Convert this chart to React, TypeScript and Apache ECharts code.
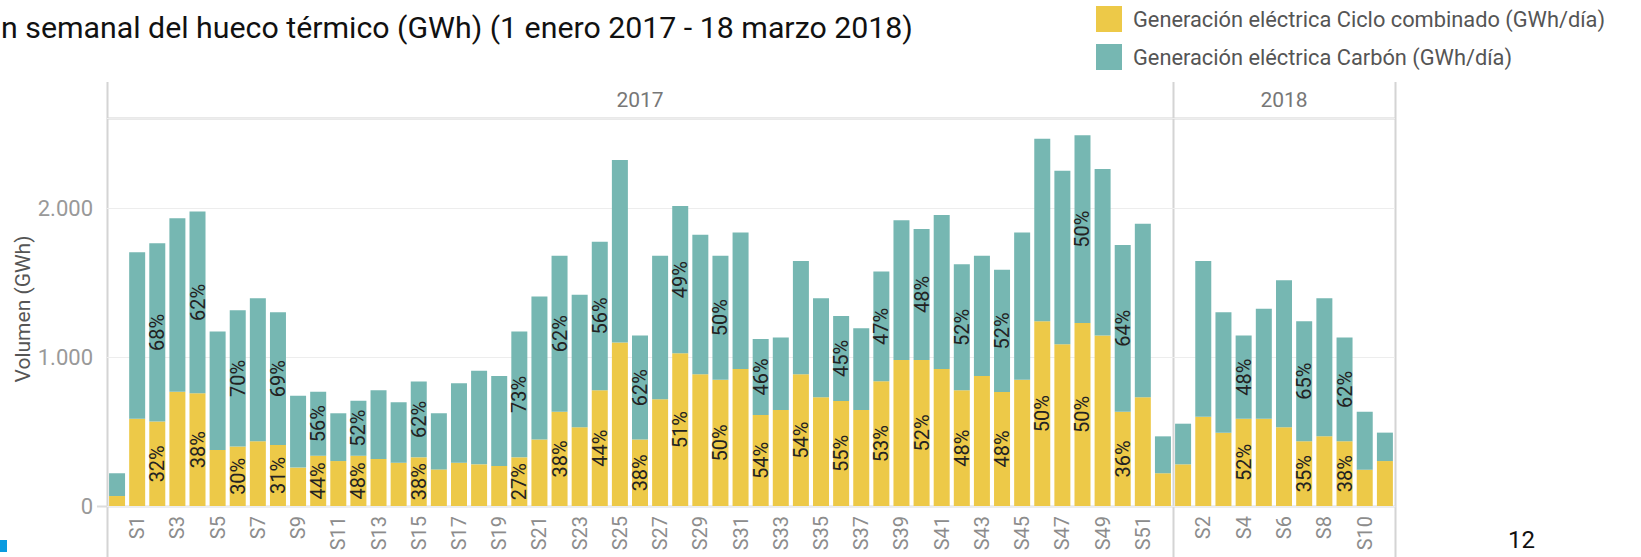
import React, { useEffect, useRef } from 'react';
import * as echarts from 'echarts';

const ccName = 'Generación eléctrica Ciclo combinado (GWh/día)';
const coalName = 'Generación eléctrica Carbón (GWh/día)';

const weeks2017 = ['S0','S1','S2','S3','S4','S5','S6','S7','S8','S9','S10','S11','S12','S13','S14','S15','S16','S17','S18','S19','S20','S21','S22','S23','S24','S25','S26','S27','S28','S29','S30','S31','S32','S33','S34','S35','S36','S37','S38','S39','S40','S41','S42','S43','S44','S45','S46','S47','S48','S49','S50','S51','S52'];
const weeks2018 = ['S1','S2','S3','S4','S5','S6','S7','S8','S9','S10','S11'];

const cc2017 = [67,587,567,768,757,376,399,435,410,258,338,302,338,316,291,327,246,291,280,269,327,446,634,529,777,1098,446,717,1026,885,849,921,612,645,885,730,706,645,838,981,981,921,777,874,766,849,1241,1086,1230,1145,634,730,220];
const coal2017 = [153,1118,1198,1165,1221,796,916,961,891,483,430,321,370,461,406,509,377,533,629,605,845,961,1048,891,999,1227,699,965,990,938,833,916,510,488,761,666,571,549,737,939,880,1035,847,808,822,988,1227,1167,1261,1120,1120,1167,248];
const cc2018 = [280,600,493,587,587,529,435,468,435,244,302];
const coal2018 = [273,1046,808,558,739,987,806,928,698,390,191];

const ccLabelWeeks2017 = ['S2','S4','S6','S8','S10','S12','S15','S20','S22','S24','S26','S28','S30','S32','S34','S36','S38','S40','S42','S44','S46','S48','S50'];
const ccLabelPct2017 = [32,38,30,31,44,48,38,27,38,44,38,51,50,54,54,55,53,52,48,48,50,50,36];
const coalLabelWeeks2017 = ['S2','S4','S6','S8','S10','S12','S15','S20','S22','S24','S26','S28','S30','S32','S36','S38','S40','S42','S44','S48','S50'];
const coalLabelPct2017 = [68,62,70,69,56,52,62,73,62,56,62,49,50,46,45,47,48,52,52,50,64];
const ccLabelWeeks2018 = ['S4','S7','S9'];
const ccLabelPct2018 = [52,35,38];
const coalLabelWeeks2018 = ['S4','S7','S9'];
const coalLabelPct2018 = [48,65,62];

const yearLabels = ['2017', '2018'];
const titleText = 'n semanal del hueco térmico (GWh) (1 enero 2017 - 18 marzo 2018)';
const yAxisTitle = 'Volumen (GWh)';
const pageNumber = '12';

const CC_COLOR = '#EDC948';
const COAL_COLOR = '#76B7B2';
const FONT = 'Roboto, "Open Sans", sans-serif';
const LINE = '#d4d4d4';

const Y_MAX = 2607;

function pctFormatter(weeks: string[], pcts: number[]) {
  return (p: any) => {
    const i = weeks.indexOf(p.name);
    return i >= 0 ? pcts[i] + '%' : '';
  };
}

function fmtThousands(v: number) {
  if (v % 1000 !== 0) return '';
  if (v === 0) return '0';
  return (v / 1000) + '.000';
}

export default function App() {
  const ref = useRef<HTMLDivElement>(null);
  useEffect(() => {
    if (!ref.current) return;
    const chart = echarts.init(ref.current, undefined, { renderer: 'svg' });
    const segLabel = (weeks: string[], pcts: number[]) => ({
      show: true,
      position: 'inside',
      rotate: 90,
      fontSize: 20,
      fontFamily: FONT,
      color: '#222',
      formatter: pctFormatter(weeks, pcts),
    });
    const xAxisCommon = {
      type: 'category',
      axisLine: { show: false },
      axisTick: { show: false },
      axisLabel: {
        interval: (index: number) => index % 2 === 1,
        rotate: 90,
        margin: 10,
        fontSize: 20,
        fontFamily: FONT,
        color: '#8c8c8c',
      },
    };
    const yAxisCommon = {
      type: 'value',
      min: 0,
      max: Y_MAX,
      interval: 1000,
      axisLine: { show: false },
      axisTick: { show: false },
      splitLine: { show: true, lineStyle: { color: '#ededed', width: 1 } },
    };
    chart.setOption({
      animation: false,
      backgroundColor: '#ffffff',
      textStyle: { fontFamily: FONT },
      legend: {
        data: [ccName, coalName],
        orient: 'vertical',
        left: 1096,
        top: 6,
        padding: 0,
        itemGap: 12,
        itemWidth: 26,
        itemHeight: 26,
        icon: 'rect',
        selectedMode: false,
        textStyle: { fontSize: 21.8, color: '#555', fontFamily: FONT, padding: [0, 0, 0, 6] },
      },
      grid: [
        { left: 107, top: 118, width: 1066, height: 388 },
        { left: 1173, top: 118, width: 222, height: 388 },
      ],
      xAxis: [
        { ...xAxisCommon, gridIndex: 0, data: weeks2017 },
        { ...xAxisCommon, gridIndex: 1, data: weeks2018 },
      ],
      yAxis: [
        {
          ...yAxisCommon,
          gridIndex: 0,
          axisLabel: { fontSize: 22, color: '#999', fontFamily: FONT, margin: 14, formatter: fmtThousands },
        },
        { ...yAxisCommon, gridIndex: 1, axisLabel: { show: false } },
      ],
      series: [
        {
          name: ccName, type: 'bar', xAxisIndex: 0, yAxisIndex: 0, stack: 'y2017',
          barWidth: 16, itemStyle: { color: CC_COLOR }, data: cc2017,
          label: segLabel(ccLabelWeeks2017, ccLabelPct2017),
        },
        {
          name: coalName, type: 'bar', xAxisIndex: 0, yAxisIndex: 0, stack: 'y2017',
          barWidth: 16, itemStyle: { color: COAL_COLOR }, data: coal2017,
          label: segLabel(coalLabelWeeks2017, coalLabelPct2017),
        },
        {
          name: ccName, type: 'bar', xAxisIndex: 1, yAxisIndex: 1, stack: 'y2018',
          barWidth: 16, itemStyle: { color: CC_COLOR }, data: cc2018,
          label: segLabel(ccLabelWeeks2018, ccLabelPct2018),
        },
        {
          name: coalName, type: 'bar', xAxisIndex: 1, yAxisIndex: 1, stack: 'y2018',
          barWidth: 16, itemStyle: { color: COAL_COLOR }, data: coal2018,
          label: segLabel(coalLabelWeeks2018, coalLabelPct2018),
        },
      ],
      graphic: [
        { type: 'line', shape: { x1: 107.5, y1: 82, x2: 107.5, y2: 557 }, style: { stroke: LINE, lineWidth: 2 } },
        { type: 'line', shape: { x1: 1173.5, y1: 82, x2: 1173.5, y2: 557 }, style: { stroke: LINE, lineWidth: 2 } },
        { type: 'line', shape: { x1: 1395.5, y1: 82, x2: 1395.5, y2: 557 }, style: { stroke: LINE, lineWidth: 2 } },
        { type: 'line', shape: { x1: 107, y1: 118.5, x2: 1396, y2: 118.5 }, style: { stroke: LINE, lineWidth: 2 } },
        { type: 'line', shape: { x1: 97, y1: 506.5, x2: 1396, y2: 506.5 }, style: { stroke: '#dcdcdc', lineWidth: 2 } },
        {
          type: 'text', x: 640, y: 100,
          style: { text: yearLabels[0], fontSize: 21, fill: '#777', fontFamily: FONT, textAlign: 'center', textVerticalAlign: 'middle' },
        },
        {
          type: 'text', x: 1284, y: 100,
          style: { text: yearLabels[1], fontSize: 21, fill: '#777', fontFamily: FONT, textAlign: 'center', textVerticalAlign: 'middle' },
        },
        {
          type: 'text', x: 23, y: 309, rotation: Math.PI / 2,
          style: { text: yAxisTitle, fontSize: 21, fill: '#555', fontFamily: FONT, textAlign: 'center', textVerticalAlign: 'middle' },
        },
        {
          type: 'text', x: 1, y: 27,
          style: { text: titleText, fontSize: 30.3, fill: '#111', fontFamily: FONT, textAlign: 'left', textVerticalAlign: 'middle' },
        },
        {
          type: 'text', x: 1508, y: 540, 
          style: { text: pageNumber, fontSize: 24, fill: '#111', fontFamily: FONT, textAlign: 'left', textVerticalAlign: 'middle' },
        },
        { type: 'rect', shape: { x: 0, y: 540, width: 7, height: 12 }, style: { fill: '#0a9be0' } },
      ],
    });
    return () => chart.dispose();
  }, []);
  return <div ref={ref} style={{ position: 'fixed', left: 0, top: 0, width: 1641, height: 557 }} />;
}
